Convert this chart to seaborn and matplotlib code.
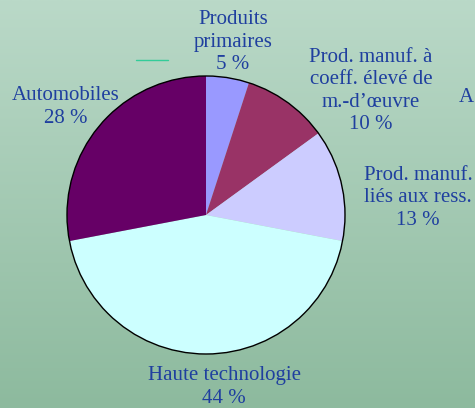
import numpy as np
import matplotlib
matplotlib.use("Agg")
import matplotlib.pyplot as plt
import matplotlib.patches as mpatches
import seaborn as sns

# Export shares by product group (%)
categories = ["Produits\nprimaires", "Prod. manuf. à\ncoeff. élevé de\nm.-d\u2019\u0153uvre",
              "Prod. manuf.\nliés aux ress.", "Haute technologie", "Automobiles"]
shares = [5, 10, 13, 44, 28]
slice_colors = ["#9999FF", "#993366", "#CCCCFF", "#CCFFFF", "#660066"]

sns.set_style("white")
plt.rcParams['font.family'] = ['Liberation Serif', 'DejaVu Serif']

W, H = 475, 408
fig = plt.figure(figsize=(W / 100, H / 100), dpi=100)
ax = fig.add_axes([0, 0, 1, 1])

# green vertical gradient background
top = np.array([0xBA, 0xD9, 0xC8]) / 255
bottom = np.array([0x8D, 0xBA, 0x9E]) / 255
t = np.linspace(0, 1, 256)[:, None]
grad = (top * (1 - t) + bottom * t)[:, None, :]
ax.imshow(grad, extent=[0, W, 0, H], aspect='auto', zorder=0)

cx, cy, r = 206, H - 215, 139
palette = sns.color_palette(slice_colors)
ax.pie(shares, colors=palette, startangle=90, counterclock=False,
       center=(cx, cy), radius=r, wedgeprops=dict(linewidth=0), frame=True)
ax.add_patch(mpatches.Circle((cx, cy), r, fill=False, edgecolor='black', lw=1, zorder=5))
ax.set_xlim(0, W)
ax.set_ylim(0, H)
ax.set_aspect('equal')
ax.axis('off')

txt_color = "#1F3F9F"
label_pos = [(233, 42), (371, 91), (418, 198), (224, 387), (66, 107)]
for name, val, (x, y) in zip(categories, shares, label_pos):
    ax.text(x, H - y, f"{name}\n{val} %", ha='center', va='center',
            fontsize=15, color=txt_color, linespacing=1.25, zorder=6)

# clipped label at right edge and stray line
ax.text(459, H - 97, "A", ha='left', va='center', fontsize=15, color=txt_color, zorder=6)
ax.plot([136, 168], [H - 60, H - 60], color="#33CC99", lw=1, zorder=6)

fig.savefig("out.png", dpi=100)
